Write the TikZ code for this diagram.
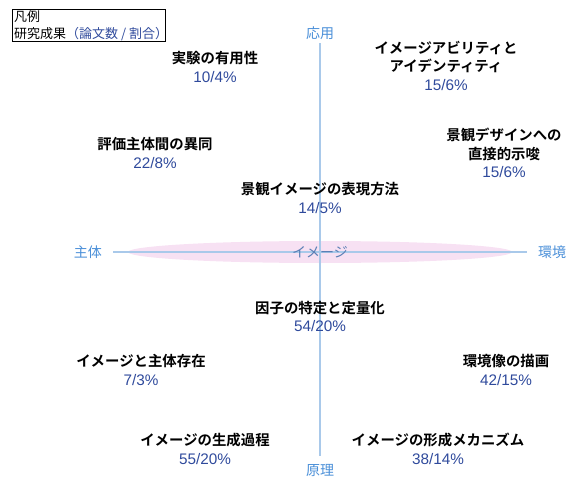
\documentclass[tikz,border=0pt]{standalone}
\usepackage{fontspec}
\setmainfont{Liberation Sans}
\newfontfamily\jp{Noto Sans CJK JP}
\newfontfamily\jpb{Noto Sans CJK JP Bold}
\definecolor{numblue}{HTML}{2F4A9C}
\definecolor{axblue}{HTML}{4A8FD8}
\definecolor{axline}{HTML}{A9C9EA}
\definecolor{imgblue}{HTML}{5A7FB5}
\definecolor{pinkfill}{HTML}{F7E1F3}
\begin{document}
\begin{tikzpicture}[x=1pt,y=-1pt,
  ttl/.style={align=center,font=\jpb\fontsize{14.4}{18.5}\selectfont,inner sep=0pt},
  num/.style={font=\fontsize{15.3}{17}\selectfont,text=numblue,inner sep=0pt},
  axlab/.style={font=\jp\fontsize{14}{16}\selectfont,text=axblue,inner sep=0pt}]
\useasboundingbox (0,0) rectangle (566,479);
% ellipse
\fill[pinkfill] (320,252) ellipse [x radius=192, y radius=11];
% axes
\coordinate (top) at (320,43);
\coordinate (bot) at (320,456);
\coordinate (lft) at (113,252);
\coordinate (rgt) at (527,252);
\draw[axline,line width=1.2pt] (top) -- (bot);
\draw[axline,line width=1.2pt] (lft) -- (rgt);
\node[axlab] (oyo) at (320,33) {応用};
\node[axlab] (genri) at (320,470) {原理};
\node[axlab] (shutai) at (88,252) {主体};
\node[axlab] (kankyo) at (552,252) {環境};
\node[font=\jp\fontsize{14}{16}\selectfont,text=imgblue,inner sep=0pt] (img) at (320,252) {イメージ};
% legend
\node[draw=black,line width=0.8pt,anchor=north west,minimum width=153pt,minimum height=32pt,inner sep=0pt] (legend) at (12,9) {};
\node[anchor=west,inner sep=0pt,font=\jp\fontsize{13}{14}\selectfont] (lg1) at (14,17) {凡例};
\node[anchor=west,inner sep=0pt,font=\jp\fontsize{13}{14}\selectfont] (lg2) at (14,34) {研究成果\textcolor{numblue}{（論文数 / 割合）}};
% items
\node[ttl] (a1) at (215,58) {実験の有用性};
\node[num] (a2) at (215,77) {10/4\%};
\node[ttl] (b1) at (446,57) {イメージアビリティと\\アイデンティティ};
\node[num] (b2) at (446,85) {15/6\%};
\node[ttl] (c1) at (155,144) {評価主体間の異同};
\node[num] (c2) at (155,163) {22/8\%};
\node[ttl] (d1) at (504,144.5) {景観デザインへの\\直接的示唆};
\node[num] (d2) at (504,172) {15/6\%};
\node[ttl] (e1) at (320,189) {景観イメージの表現方法};
\node[num] (e2) at (320,208) {14/5\%};
\node[ttl] (f1) at (320,308) {因子の特定と定量化};
\node[num] (f2) at (320,326) {54/20\%};
\node[ttl] (g1) at (141,361) {イメージと主体存在};
\node[num] (g2) at (141,380) {7/3\%};
\node[ttl] (h1) at (506,361) {環境像の描画};
\node[num] (h2) at (506,380) {42/15\%};
\node[ttl] (i1) at (205,440) {イメージの生成過程};
\node[num] (i2) at (205,459) {55/20\%};
\node[ttl] (j1) at (438,440) {イメージの形成メカニズム};
\node[num] (j2) at (438,459) {38/14\%};
\end{tikzpicture}
\end{document}
